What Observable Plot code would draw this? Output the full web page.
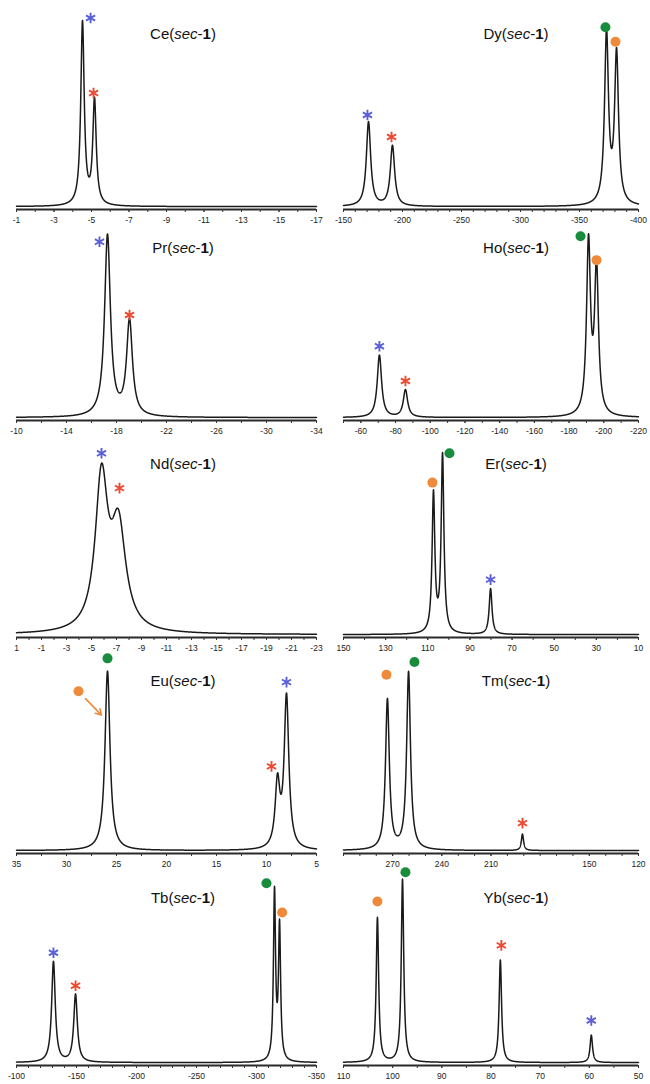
<!DOCTYPE html>
<html><head><meta charset="utf-8">
<script src="https://cdn.jsdelivr.net/npm/d3@7"></script>
<script src="https://cdn.jsdelivr.net/npm/@observablehq/plot@0.6"></script>
<style>
body{margin:0;background:#fff;font-family:"Liberation Sans",Arial,sans-serif}
#wrap{position:relative;width:650px;height:1084px;overflow:hidden;background:#fff}
.panel{position:absolute}
.title{position:absolute;transform:translate(-50%,-50%);font-size:15px;white-space:nowrap;color:#111;font-family:"Liberation Sans",Arial,sans-serif}
</style></head>
<body><div id="wrap"></div>
<script>
// ---- data ----
const panelNames = ["Ce","Dy","Pr","Ho","Nd","Er","Eu","Tm","Tb","Yb"];
const axisDomains = [[-1,-17],[-150,-400],[-10,-34],[-50,-220],[1,-23],[150,10],[35,5],[300,120],[-100,-350],[110,50]];
const tickLabels = [
  ["-1","-3","-5","-7","-9","-11","-13","-15","-17"],
  ["-150","-200","-250","-300","-350","-400"],
  ["-10","-14","-18","-22","-26","-30","-34"],
  ["-60","-80","-100","-120","-140","-160","-180","-200","-220"],
  ["1","-1","-3","-5","-7","-9","-11","-13","-15","-17","-19","-21","-23"],
  ["150","130","110","90","70","50","30","10"],
  ["35","30","25","20","15","10","5"],
  ["270","240","210","150","120"],
  ["-100","-150","-200","-250","-300","-350"],
  ["110","100","90","80","70","60","50"]
];
const minorTickSteps = [1,10,2,10,1,10,2.5,10,10,5];

const peakShifts = [
  [-4.52,-5.16],
  [-171.2,-191.5,-372.9,-381.4],
  [-17.28,-19.04],
  [-70.7,-85.7,-191.2,-195.8],
  [-5.8,-7.16],
  [107.3,103.0,80.2],
  [25.9,8.9,8.0],
  [273.2,260.3,190.8],
  [-130.8,-149.2,-315.0,-319.2],
  [103.1,98.0,78.1,59.6]
];
const peakHeights = [
  [1.0,0.57],
  [0.46,0.33,0.93,0.82],
  [0.99,0.52],
  [0.34,0.15,0.94,0.80],
  [0.82,0.55],
  [0.76,0.97,0.25],
  [0.98,0.35,0.83],
  [0.82,0.97,0.09],
  [0.55,0.37,0.92,0.73],
  [0.79,1.0,0.56,0.15]
];
const peakHalfWidths = [
  [0.11,0.11],
  [2.2,2.2,2.0,2.0],
  [0.28,0.28],
  [1.5,1.5,1.36,1.36],
  [0.6,0.7],
  [0.78,0.78,0.8],
  [0.3,0.28,0.28],
  [1.4,1.4,0.8],
  [1.8,1.8,1.05,1.05],
  [0.3,0.3,0.3,0.3]
];

const markerKinds = [
  ["starBlue","starRed"],
  ["starBlue","starRed","dotGreen","dotOrange"],
  ["starBlue","starRed"],
  ["starBlue","starRed","dotGreen","dotOrange"],
  ["starBlue","starRed"],
  ["dotOrange","dotGreen","starBlue"],
  ["dotGreen","dotOrange","starRed","starBlue"],
  ["dotOrange","dotGreen","starRed"],
  ["starBlue","starRed","dotGreen","dotOrange"],
  ["dotOrange","dotGreen","starRed","starBlue"]
];
const markerShifts = [
  [-4.95,-5.11],
  [-170.3,-190.7,-372.0,-380.5],
  [-16.64,-19.04],
  [-70.7,-85.7,-186.6,-195.8],
  [-5.8,-7.24],
  [107.8,99.7,80.2],
  [25.9,28.8,9.5,8.0],
  [273.8,256.7,190.8],
  [-130.8,-149.2,-308.3,-321.4],
  [103.1,97.4,77.9,59.6]
];
const markerHeights = [
  [1.03,0.62],
  [0.50,0.38,0.98,0.90],
  [0.96,0.56],
  [0.39,0.20,0.99,0.86],
  [0.99,0.80],
  [0.83,0.99,0.30],
  [1.05,0.87,0.46,0.92],
  [0.96,1.03,0.15],
  [0.60,0.42,0.98,0.82],
  [0.88,1.04,0.64,0.23]
];
// Eu orange arrow: [shift, height] start and end
const euArrowFrom = [28.1, 0.83];
const euArrowTo = [26.5, 0.74];

// ---- layout ----
const rowTops = [-1, 210, 426.5, 643, 855];
const titleY = [33, 247, 463, 680, 897];
const colLeft = [0, 325];
const colMargins = [[16, 9], [18, 12]];
const titleX = [183, 516];

const markerStyle = {
  starBlue: {symbol: "asterisk", stroke: "#5a5fd6"},
  starRed: {symbol: "asterisk", stroke: "#ee4a32"},
  dotGreen: {symbol: "circle", fill: "#178c3c"},
  dotOrange: {symbol: "circle", fill: "#ee8a3a"}
};

function lorentz(x, pos, h, hw) {
  return pos.reduce((s, p, i) => s + h[i] * hw[i] * hw[i] / (hw[i] * hw[i] + (x - p) * (x - p)), 0);
}

const wrap = document.getElementById("wrap");
panelNames.forEach((name, k) => {
  const row = Math.floor(k / 2), col = k % 2;
  const [d0, d1] = axisDomains[k];
  const pos = peakShifts[k], hts = peakHeights[k], hws = peakHalfWidths[k];
  const n = 2400;
  const xs = d3.range(n + 1).map(i => d0 + (d1 - d0) * i / n).concat(pos);
  xs.sort((a, b) => a - b);
  const curve = xs.map(x => ({x, y: lorentz(x, pos, hts, hws)}));

  const lo = Math.min(d0, d1), hi = Math.max(d0, d1), st = minorTickSteps[k];
  const minor = d3.range(Math.ceil(lo / st) * st, hi + 1e-9, st);
  const labelMap = new Map(tickLabels[k].map(s => [Number(s), s]));
  const major = tickLabels[k].map(Number);

  const markers = markerKinds[k].map((kind, i) => ({kind, x: markerShifts[k][i], y: markerHeights[k][i]}));
  const markerMarks = Object.keys(markerStyle).map(kind => {
    const sty = markerStyle[kind];
    const data = markers.filter(m => m.kind === kind);
    if (sty.symbol === "asterisk")
      return Plot.dot(data, {x: "x", y: "y", symbol: "asterisk", r: 5, stroke: sty.stroke, strokeWidth: 1.9});
    return Plot.dot(data, {x: "x", y: "y", symbol: "circle", r: 5, fill: sty.fill, stroke: "none"});
  });

  const extra = [];
  if (name === "Eu") {
    extra.push(Plot.arrow([{from: euArrowFrom, to: euArrowTo}], {
      x1: d => d.from[0], y1: d => d.from[1], x2: d => d.to[0], y2: d => d.to[1],
      stroke: "#ee8a3a", strokeWidth: 1.6, headLength: 6
    }));
  }

  const svg = Plot.plot({
    width: 325, height: 232,
    marginLeft: colMargins[col][0], marginRight: colMargins[col][1],
    marginTop: 24, marginBottom: 22,
    style: {background: "transparent", fontFamily: "'Liberation Sans', Arial, sans-serif", fontSize: "8.5px", color: "#222", overflow: "visible"},
    x: {domain: [d0, d1], label: null},
    y: {domain: [-0.016, 1], axis: null},
    marks: [
      Plot.line(curve, {x: "x", y: "y", stroke: "#1a1a1a", strokeWidth: 1.5}),
      Plot.ruleY([-0.016], {stroke: "#2a2a2a", strokeWidth: 2}),
      Plot.axisX({ticks: minor, tickSize: 3, tickFormat: () => "", label: null, stroke: "#333"}),
      Plot.axisX({ticks: major, tickSize: 3, tickPadding: 4, tickFormat: d => labelMap.get(d) ?? "", label: null, stroke: "#333"}),
      ...markerMarks,
      ...extra
    ]
  });
  const div = document.createElement("div");
  div.className = "panel";
  div.style.left = colLeft[col] + "px";
  div.style.top = rowTops[row] + "px";
  div.appendChild(svg);
  wrap.appendChild(div);

  const t = document.createElement("div");
  t.className = "title";
  t.style.left = titleX[col] + "px";
  t.style.top = titleY[row] + "px";
  t.innerHTML = name + "(<i>sec</i>-<b>1</b>)";
  wrap.appendChild(t);
});
</script>
</body></html>
